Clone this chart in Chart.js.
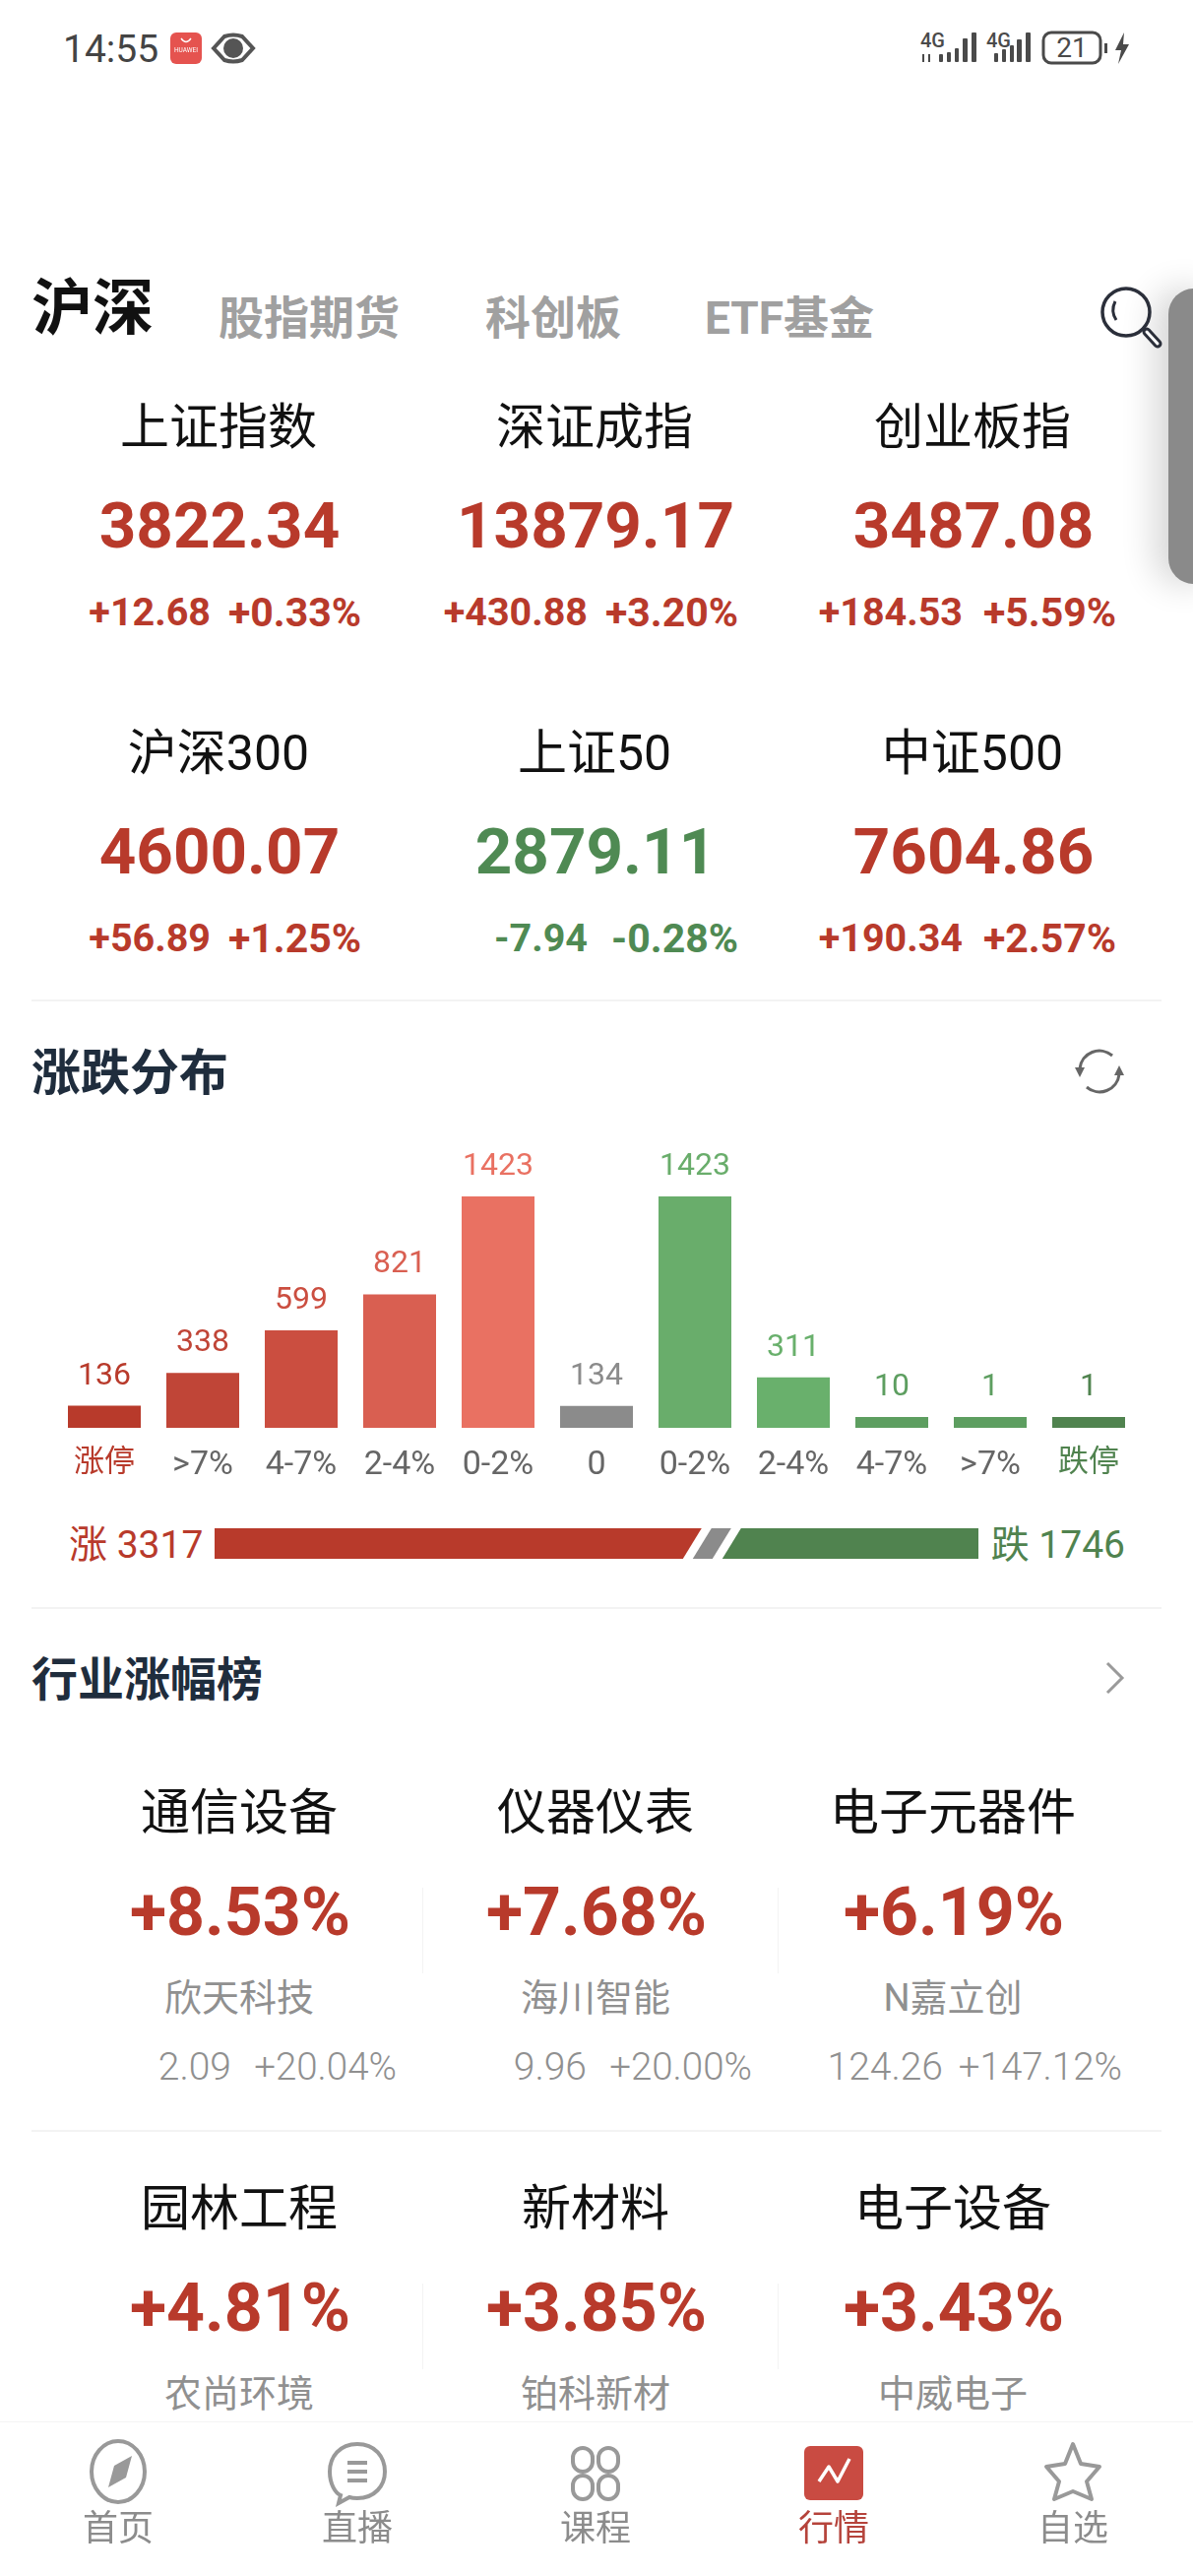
<!DOCTYPE html>
<html>
<head>
<meta charset="utf-8">
<title>涨跌分布</title>
<script src="https://cdn.jsdelivr.net/npm/chart.js@4"></script>
<style>
  html, body { margin: 0; padding: 0; background: #fff; }
  body { position: relative; width: 1212px; height: 2616px; overflow: hidden;
         font-family: Roboto, "Noto Sans CJK SC", sans-serif; }
  .t { position: absolute; white-space: nowrap; line-height: 1; }
  .line { position: absolute; background: #f3f3f3; }
  canvas { position: absolute; }
  #art { position: absolute; left: 0; top: 0; }
  #nav { position: absolute; left: 0; top: 2459px; width: 1212px; height: 157px; background: #fff; border-top: 1px solid #f4f4f4; box-sizing: border-box; }
  #panel { position: absolute; left: 1187px; top: 293px; width: 60px; height: 300px; background: #8a8a8a;
           border-radius: 26px; box-shadow: -14px 0 34px rgba(0,0,0,.16); }
</style>
</head>
<body>
<div id="panel"></div>
<canvas id="dist" width="1212" height="370" style="left:0;top:1150px;width:1212px;height:370px"></canvas>
<canvas id="ratio" width="776" height="31" style="left:218px;top:1552px;width:776px;height:31px"></canvas>
<div id="nav"></div>
<svg id="art" width="1212" height="2616" viewBox="0 0 1212 2616" fill="none">
  <!-- status bar -->
  <rect x="173" y="33" width="32" height="32" rx="6" fill="#e5534f"/>
  <path d="M184 39 q5 7 10 0" stroke="#fff" stroke-width="1.3"/>
  <text x="189" y="53" font-size="6.5" fill="#fff" text-anchor="middle" font-family="Roboto">HUAWEI</text>
  <path d="M217 49 L228 37 Q237 34 246 37 L257 49 L246 61 Q237 64 228 61 Z" stroke="#555" stroke-width="4" fill="#fff"/>
  <circle cx="237" cy="49" r="10" fill="#555"/>
  <g fill="#4a4a4a">
    <rect x="954" y="55" width="4" height="8" rx="1"/><rect x="962" y="53" width="4" height="10" rx="1"/><rect x="970" y="49" width="4" height="14" rx="1"/><rect x="978" y="39" width="5" height="24" rx="1"/><rect x="987" y="33" width="5" height="30" rx="1"/>
    <rect x="1010" y="54" width="4" height="9" rx="1"/><rect x="1018" y="50" width="4" height="13" rx="1"/><rect x="1026" y="46" width="4" height="17" rx="1"/><rect x="1033" y="40" width="5" height="23" rx="1"/><rect x="1042" y="33" width="5" height="30" rx="1"/>
    <rect x="937" y="55" width="2" height="8"/><rect x="943" y="55" width="2" height="8"/>
    <rect x="1122" y="44" width="3" height="10"/>
    <path d="M1142 33 L1133 51 L1139 51 L1136 65 L1147 45 L1141 45 Z"/>
  </g>
  <rect x="1060" y="33" width="58" height="31" rx="8" stroke="#4a4a4a" stroke-width="3"/>
  <!-- search -->
  <circle cx="1144" cy="317" r="24" stroke="#2b2f3a" stroke-width="3.5"/>
  <path d="M1133 306 Q1128 316 1134 325" stroke="#2b2f3a" stroke-width="3"/>
  <path d="M1165 337 L1176 349" stroke="#2b2f3a" stroke-width="9" stroke-linecap="round"/>
  <path d="M1165 337 L1176 349" stroke="#fff" stroke-width="3" stroke-linecap="round"/>
  <!-- refresh -->
  <path d="M1097 1085 A20 20 0 0 1 1130 1072" stroke="#666" stroke-width="3"/>
  <path d="M1137 1091 A20 20 0 0 1 1104 1104" stroke="#666" stroke-width="3"/>
  <path d="M1097 1094 L1092 1084 L1102 1084 Z" fill="#666"/>
  <path d="M1137 1082 L1132 1092 L1142 1092 Z" fill="#666"/>
  <!-- chevron -->
  <path d="M1125 1689 L1140 1704 L1125 1719" stroke="#9a9a9a" stroke-width="3"/>
  <!-- nav icons -->
  <g stroke="#999" stroke-width="4">
    <ellipse cx="120" cy="2510" rx="27" ry="31"/>
    <path d="M134 2494 L128 2516 L110 2526 L116 2504 Z" fill="#999" stroke="none"/>
    <path d="M363 2482 C345 2482 335 2495 335 2510 C335 2523 341 2532 346 2534 L344 2542 L355 2536 C358 2537 360 2537 363 2537 C381 2537 391 2524 391 2510 C391 2495 381 2482 363 2482 Z"/>
    <rect x="582" y="2486" width="20" height="24" rx="10"/><rect x="608" y="2486" width="20" height="24" rx="10"/>
    <rect x="582" y="2514" width="20" height="24" rx="10"/><rect x="608" y="2514" width="20" height="24" rx="10"/>
    <path d="M1090 2482 L1098 2502 L1117 2505 L1104 2520 L1109 2538 L1090 2530 L1071 2538 L1076 2520 L1063 2505 L1082 2502 Z" stroke-linejoin="round"/>
  </g>
  <path d="M353 2501 H373 M353 2510 H373 M353 2519 H373" stroke="#999" stroke-width="4"/>
  <rect x="817" y="2484" width="60" height="55" rx="6" fill="#c94b42"/>
  <path d="M832 2520 L842 2505 L851 2520 L863 2497" stroke="#fff" stroke-width="3.5" stroke-linejoin="round"/>
</svg>
<script>
// 涨跌分布
const distLabels = ["涨停", ">7%", "4-7%", "2-4%", "0-2%", "0", "0-2%", "2-4%", "4-7%", ">7%", "跌停"];
const distValues = [136, 338, 599, 821, 1423, 134, 1423, 311, 10, 1, 1];
const distColors = ["#b83a2b", "#c04537", "#cb4e40", "#d95f51", "#e97162", "#8b8b8b", "#69ad6b", "#69b06c", "#5d9e60", "#5d9e60", "#50834f"];
const tickColors = ["#b83a2b", "#666", "#666", "#666", "#666", "#666", "#666", "#666", "#666", "#666", "#50834f"];
const upCount = 3317;
const flatCount = 134;
const downCount = 1746;

// 指数
const tabs = ["股指期货", "科创板", "ETF基金"];
const indexNames = ["上证指数", "深证成指", "创业板指", "沪深300", "上证50", "中证500"];
const indexValues = ["3822.34", "13879.17", "3487.08", "4600.07", "2879.11", "7604.86"];
const indexChanges = ["+12.68", "+430.88", "+184.53", "+56.89", "-7.94", "+190.34"];
const indexPcts = ["+0.33%", "+3.20%", "+5.59%", "+1.25%", "-0.28%", "+2.57%"];

// 行业涨幅榜
const sectorNames = ["通信设备", "仪器仪表", "电子元器件", "园林工程", "新材料", "电子设备"];
const sectorPcts = ["+8.53%", "+7.68%", "+6.19%", "+4.81%", "+3.85%", "+3.43%"];
const stockNames = ["欣天科技", "海川智能", "N嘉立创", "农尚环境", "铂科新材", "中威电子"];
const stockPrices = ["2.09", "9.96", "124.26"];
const stockPcts = ["+20.04%", "+20.00%", "+147.12%"];

const navLabels = ["首页", "直播", "课程", "行情", "自选"];

const RED = "#b83a2b", GREEN = "#4f8a53", GRAY = "#909090";

// align: c = centre on x, r = right edge on x, l = left edge on x
function put(text, x, y, size, color, weight, align) {
  const el = document.createElement("div");
  el.className = "t";
  el.textContent = text;
  el.style.fontSize = size + "px";
  el.style.color = color;
  el.style.fontWeight = weight || 400;
  el.style.top = y + "px";
  const tx = align === "r" ? "-100%" : align === "l" ? "0" : "-50%";
  el.style.left = x + "px";
  el.style.transform = "translate(" + tx + ",-50%)";
  document.body.appendChild(el);
  return el;
}
function rule(x, y, w, h) {
  const el = document.createElement("div");
  el.className = "line";
  el.style.cssText = "left:" + x + "px;top:" + y + "px;width:" + w + "px;height:" + h + "px";
  document.body.appendChild(el);
}

// status bar
put("14:55", 64, 50, 39, "#444", 400, "l");
put("4G", 935, 41, 20, "#4a4a4a", 500, "l");
put("4G", 1002, 41, 20, "#4a4a4a", 500, "l");
put("21", 1089, 49, 28, "#4a4a4a", 400);

// tabs
put("沪深", 32, 314, 62, "#111", 700, "l");
put(tabs[0], 222, 323, 46, "#a0a0a0", 700, "l");
put(tabs[1], 493, 323, 46, "#a0a0a0", 700, "l");
put(tabs[2], 716, 323, 46, "#a0a0a0", 700, "l");

// index cards
const colX = [223, 605, 989];
const chgRight = [214, 597, 978];
const pctRight = [367, 750, 1134];
indexNames.forEach((name, i) => {
  const c = i % 3, row = i < 3 ? 0 : 331;
  const color = indexChanges[i][0] === "-" ? GREEN : RED;
  put(name, colX[c] - 1, 434 + row, 50, "#111");
  put(indexValues[i], colX[c], 534 + row, 65.5, color, 700);
  put(indexChanges[i], chgRight[c], 622 + row, 39.5, color, 700, "r");
  put(indexPcts[i], pctRight[c], 622 + row, 41, color, 700, "r");
});
rule(32, 1015, 1148, 2);

// section titles
put("涨跌分布", 32, 1090, 50, "#1f2d3d", 700, "l");
put("涨 3317", 70, 1569, 39, RED, 400, "l");
put("跌 1746", 1143, 1569, 39, "#50834f", 400, "r");
rule(32, 1632, 1148, 2);
put("行业涨幅榜", 32, 1705, 47, "#1f2d3d", 700, "l");

// sector cards
const secX = [243, 605, 968];
const priceRight = [235, 596, 958];
const sPctRight = [403, 764, 1140];
sectorNames.forEach((name, i) => {
  const c = i % 3, row = i < 3 ? 0 : 402;
  put(name, secX[c], 1841 + row, 50, "#111");
  put(sectorPcts[i], secX[c] + 1, 1942 + row, 68, RED, 700);
  put(stockNames[i], secX[c], 2029 + row, 38, GRAY);
  if (i < 3) {
    put(stockPrices[c], priceRight[c], 2099, 39, GRAY, 300, "r");
    put(stockPcts[c], sPctRight[c], 2099, 38.5, GRAY, 300, "r");
  }
});
[1917, 2319].forEach((y) => {
  rule(429, y, 1, 87);
  rule(790, y, 1, 87);
});
rule(32, 2163, 1148, 2);

// bottom nav, above the white sheet
const navX = [120, 363, 605, 847, 1090];
navLabels.forEach((name, i) => {
  put(name, navX[i], 2568, 36, i === 3 ? "#b5433b" : "#8c8c8c").style.zIndex = 3;
});
document.getElementById("art").style.zIndex = 3;

// value above each bar
const barValues = {
  id: "barValues",
  afterDatasetsDraw(chart) {
    const ctx = chart.ctx;
    ctx.save();
    ctx.font = "32px Roboto";
    ctx.textAlign = "center";
    ctx.textBaseline = "alphabetic";
    chart.getDatasetMeta(0).data.forEach((bar, i) => {
      ctx.fillStyle = distColors[i];
      ctx.fillText(distValues[i], bar.x, bar.y - 22);
    });
    ctx.restore();
  },
};

new Chart(document.getElementById("dist"), {
  type: "bar",
  data: {
    labels: distLabels,
    datasets: [{
      data: distValues,
      backgroundColor: distColors,
      minBarLength: 11,
      barPercentage: 1,
      categoryPercentage: 0.74,
    }],
  },
  options: {
    responsive: false,
    animation: false,
    layout: { padding: { left: 56, right: 56, top: 65, bottom: 0 } },
    plugins: { legend: { display: false }, tooltip: { enabled: false } },
    scales: {
      y: { display: false, min: 0, max: Math.max(...distValues) },
      x: {
        grid: { display: false },
        border: { display: false },
        afterFit(scale) { scale.height = 70; },
        ticks: {
          autoSkip: false,
          maxRotation: 0,
          padding: 10,
          color: tickColors,
          font: (c) => ({
            size: c.index === 0 || c.index === 10 ? 31 : 34,
            family: 'Roboto, "Noto Sans CJK SC"',
          }),
        },
      },
    },
  },
  plugins: [barValues],
});

// slanted flat segment between the up and down segments
const slantCuts = {
  id: "slantCuts",
  afterDatasetsDraw(chart) {
    const ctx = chart.ctx;
    const x = chart.scales.x;
    const top = chart.chartArea.top, bottom = chart.chartArea.bottom;
    const a = x.getPixelForValue(upCount) - 5;
    const b = x.getPixelForValue(upCount + flatCount) + 5;
    const band = (from, to, color) => {
      ctx.fillStyle = color;
      ctx.beginPath();
      ctx.moveTo(from + 9.5, top);
      ctx.lineTo(to + 9.5, top);
      ctx.lineTo(to - 9.5, bottom);
      ctx.lineTo(from - 9.5, bottom);
      ctx.closePath();
      ctx.fill();
    };
    ctx.save();
    band(a - 5, b + 5, "#fff");
    band(a + 5, b - 5, "#8b8b8b");
    ctx.restore();
  },
};

new Chart(document.getElementById("ratio"), {
  type: "bar",
  data: {
    labels: [""],
    datasets: [
      { data: [upCount], backgroundColor: "#b83a2b" },
      { data: [flatCount], backgroundColor: "#8b8b8b" },
      { data: [downCount], backgroundColor: "#50834f" },
    ],
  },
  options: {
    indexAxis: "y",
    responsive: false,
    animation: false,
    datasets: { bar: { barPercentage: 1, categoryPercentage: 1 } },
    layout: { padding: 0 },
    plugins: { legend: { display: false }, tooltip: { enabled: false } },
    scales: {
      x: { display: false, stacked: true, min: 0, max: upCount + flatCount + downCount },
      y: { display: false, stacked: true },
    },
  },
  plugins: [slantCuts],
});
</script>
</body>
</html>
